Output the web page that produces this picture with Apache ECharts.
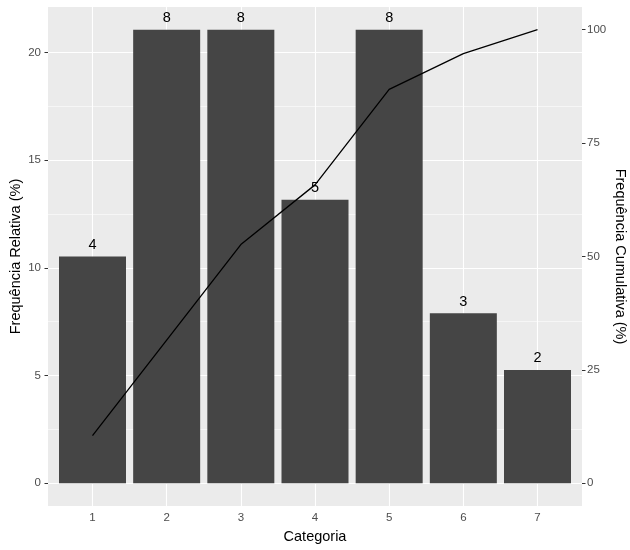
<!DOCTYPE html>
<html>
<head>
<meta charset="utf-8">
<script src="https://cdn.jsdelivr.net/npm/echarts@6/dist/echarts.min.js"></script>
<style>html,body{margin:0;padding:0;background:#fff}#c{width:630px;height:550px}</style>
</head>
<body>
<div id="c"></div>
<script>
var categories = [1, 2, 3, 4, 5, 6, 7];
var counts = [4, 8, 8, 5, 8, 3, 2];
var relFreq = [10.53, 21.05, 21.05, 13.16, 21.05, 7.89, 5.26];
var cumFreq = [10.53, 31.58, 52.63, 65.79, 86.84, 94.74, 100];
var leftTicks = [0, 5, 10, 15, 20];
var leftMinor = [2.5, 7.5, 12.5, 17.5];
var rightTicks = [0, 25, 50, 75, 100];

var FONT = 'Liberation Sans';
var chart = echarts.init(document.getElementById('c'), null, {renderer: 'canvas'});

var gridLinesY = leftTicks.map(function (v) { return {yAxis: v, lineStyle: {width: 1.1}}; })
  .concat(leftMinor.map(function (v) { return {yAxis: v, lineStyle: {width: 0.55}}; }));
var gridLinesX = categories.map(function (v) { return {xAxis: v, lineStyle: {width: 1.1}}; });

chart.setOption({
  animation: false,
  backgroundColor: '#ffffff',
  textStyle: {fontFamily: FONT},
  grid: {left: 48, right: 48, top: 7, bottom: 44, show: true, backgroundColor: '#EBEBEB', borderWidth: 0,
         containLabel: false, outerBoundsMode: 'none'},
  xAxis: {
    type: 'value', min: 0.4, max: 7.6,
    name: 'Categoria', nameLocation: 'middle', nameGap: 23, nameMoveOverlap: false,
    nameTextStyle: {fontFamily: FONT, fontSize: 14.5, color: '#000'},
    axisLine: {show: false},
    splitLine: {show: false},
    axisTick: {show: true, length: 3.5, customValues: categories, lineStyle: {color: '#333', width: 1}},
    axisLabel: {customValues: categories, margin: 6, fontFamily: FONT, fontSize: 11.5, color: '#4D4D4D'}
  },
  yAxis: [{
    type: 'value', min: -1.0526, max: 22.105, position: 'left',
    name: 'Frequência Relativa (%)', nameLocation: 'middle', nameGap: 25, nameRotate: 90, nameMoveOverlap: false,
    nameTextStyle: {fontFamily: FONT, fontSize: 14.5, color: '#000'},
    axisLine: {show: false},
    splitLine: {show: false},
    axisTick: {show: true, length: 3.5, customValues: leftTicks, lineStyle: {color: '#333', width: 1}},
    axisLabel: {customValues: leftTicks, margin: 7, fontFamily: FONT, fontSize: 11.5, color: '#4D4D4D'}
  }, {
    type: 'value', min: -5, max: 105, position: 'right',
    name: 'Frequência Cumulativa (%)', nameLocation: 'middle', nameGap: 30, nameRotate: -90, nameMoveOverlap: false,
    nameTextStyle: {fontFamily: FONT, fontSize: 14.5, color: '#000'},
    axisLine: {show: false},
    splitLine: {show: false},
    axisTick: {show: true, length: 3.5, customValues: rightTicks, lineStyle: {color: '#333', width: 1}},
    axisLabel: {customValues: rightTicks, margin: 5, fontFamily: FONT, fontSize: 11.5, color: '#4D4D4D'}
  }],
  series: [{
    type: 'line', data: [], z: 1, silent: true, symbol: 'none',
    markLine: {
      z: 1, silent: true, symbol: 'none', label: {show: false},
      lineStyle: {color: '#ffffff', type: 'solid'},
      data: gridLinesY.concat(gridLinesX)
    }
  }, {
    type: 'bar', z: 2,
    barWidth: 67,
    itemStyle: {color: '#454545'},
    data: categories.map(function (c, i) { return [c, relFreq[i]]; }),
    label: {
      show: true, position: 'top', distance: 4,
      fontFamily: FONT, fontSize: 14.5, color: '#000',
      formatter: function (p) { return String(counts[p.dataIndex]); }
    }
  }, {
    type: 'line', z: 3, yAxisIndex: 1,
    symbol: 'none', lineStyle: {color: '#000', width: 1.3},
    data: categories.map(function (c, i) { return [c, cumFreq[i]]; })
  }]
});
</script>
</body>
</html>
